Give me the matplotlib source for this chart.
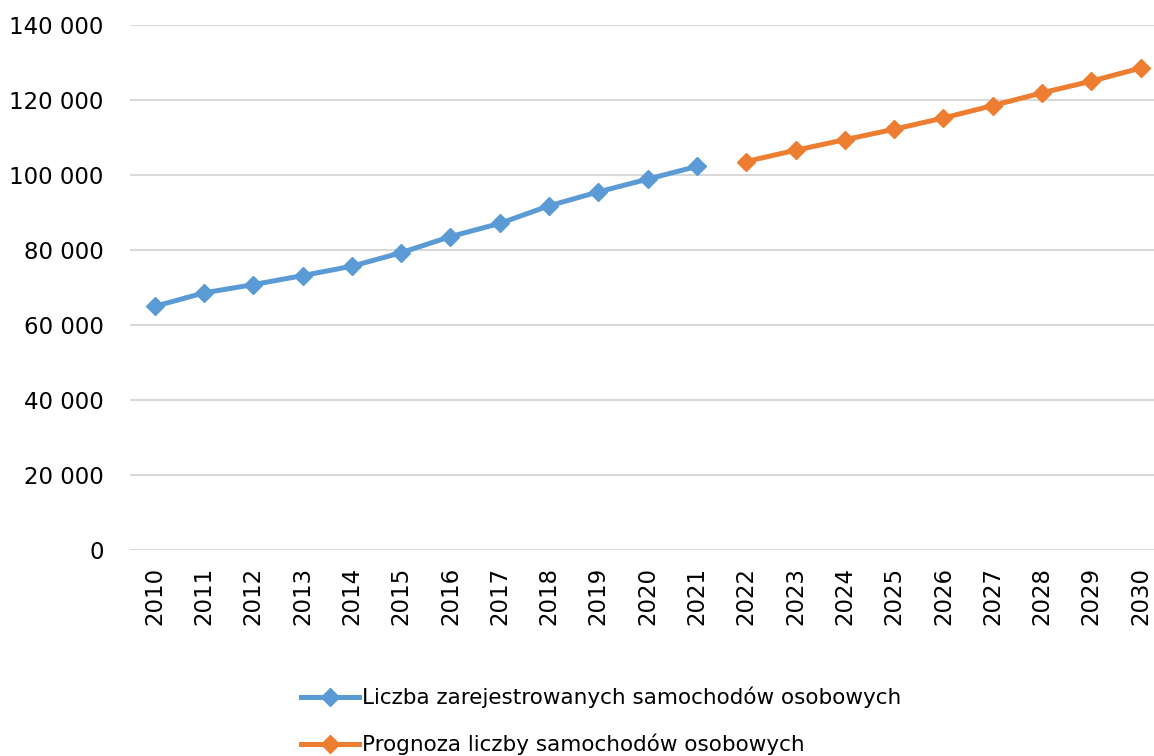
import matplotlib
matplotlib.use("Agg")
import matplotlib.pyplot as plt
from matplotlib.ticker import FuncFormatter

# data
years = list(range(2010, 2031))
registered_years = years[:12]
registered = [64900, 68500, 70700, 73100, 75600, 79200, 83500, 87000, 91700, 95400, 98800, 102200]
forecast_years = years[12:]
forecast = [103500, 106500, 109300, 112100, 115100, 118400, 121800, 124900, 128400]
label_registered = "Liczba zarejestrowanych samochodów osobowych"
label_forecast = "Prognoza liczby samochodów osobowych"

blue = "#5B9BD5"
orange = "#ED7D31"
grid = "#D9D9D9"

plt.rcParams['font.family'] = ['DejaVu Sans']

fig = plt.figure(figsize=(11.54, 7.56), dpi=100)
# plot area: left edge at x=130px, categories 49.3px wide, bottom at y=550px, top at y=24.5px
ax = fig.add_axes([130 / 1154, 1 - 550 / 756, 21 * 49.3 / 1154, (550 - 24.5) / 756])

pos = {y: i for i, y in enumerate(years)}
ax.plot([pos[y] for y in registered_years], registered, color=blue, lw=3.6,
        marker="D", markersize=9.5, label=label_registered, solid_joinstyle="round")
ax.plot([pos[y] for y in forecast_years], forecast, color=orange, lw=3.6,
        marker="D", markersize=9.5, label=label_forecast, solid_joinstyle="round")

ax.set_xlim(-0.5, len(years) - 0.5)
ax.set_ylim(0, 140000)
ax.set_yticks(range(0, 140001, 20000))
ax.yaxis.set_major_formatter(FuncFormatter(lambda v, p: f"{int(v):,}".replace(",", " ")))
ax.set_xticks(range(len(years)))
ax.set_xticklabels([str(y) for y in years], rotation=90)

ax.grid(axis="y", color=grid, lw=1.5)
ax.set_axisbelow(True)
for s in ["top", "right", "left", "bottom"]:
    ax.spines[s].set_visible(False)
ax.tick_params(axis="y", length=0, pad=19, labelsize=16.5)
ax.tick_params(axis="x", length=0, pad=12, labelsize=16.5)

fig.legend(loc="center", bbox_to_anchor=(601 / 1154, 1 - 721 / 756), frameon=False,
           fontsize=15.5, handlelength=2.7, handletextpad=0.1, labelspacing=1.2)

fig.savefig("out.png", dpi=100)
